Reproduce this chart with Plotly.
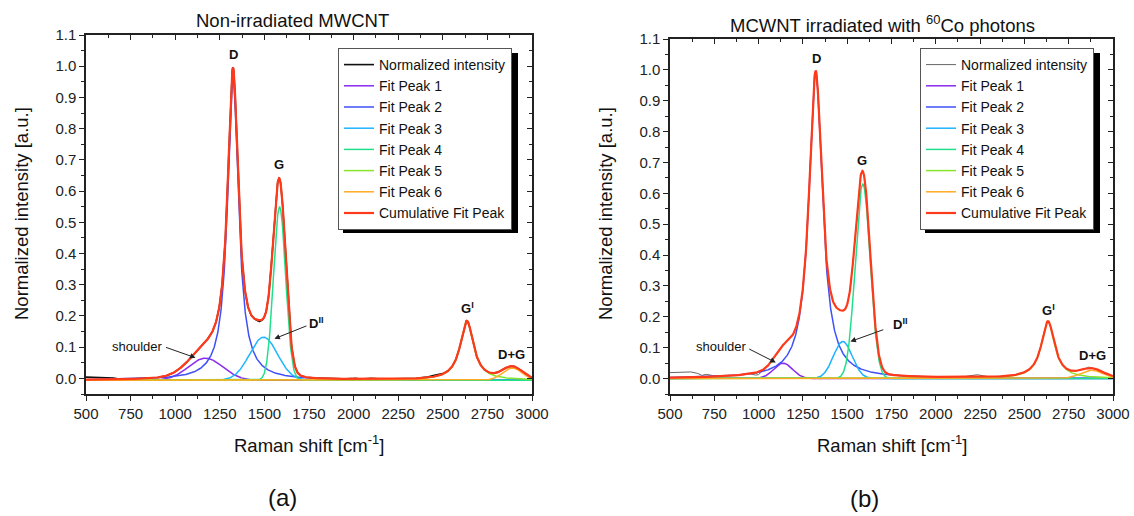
import numpy as np
import plotly.graph_objects as go

# ---------------- data ----------------
series_names = ["Normalized intensity", "Fit Peak 1", "Fit Peak 2", "Fit Peak 3",
                "Fit Peak 4", "Fit Peak 5", "Fit Peak 6", "Cumulative Fit Peak"]
peak_shapes = ["gauss", "lorentz", "gauss", "gauss", "lorentz", "gauss"]

# (a) non-irradiated MWCNT: fitted peak parameters
a_centers = [1170, 1324, 1495, 1585, 2635, 2890]
a_heights = [0.071, 0.969, 0.138, 0.555, 0.190, 0.039]
a_fwhm = [225, 74, 185, 80, 90, 130]
a_offset = -0.006
# measured minus fit (visible deviations of the measured spectrum)
a_resid_x = [500, 540, 580, 620, 645, 670, 700, 1440, 1470, 1500, 1980, 2010, 2050,
             2090, 2130, 2400, 2440, 2480, 2520, 3000]
a_resid_y = [0.008, 0.007, 0.008, 0.007, 0.006, 0.001, 0.0, 0.0, -0.004, 0.0, 0.0,
             0.003, 0.0, 0.004, 0.0, 0.0, 0.005, 0.003, 0.0, 0.0]

# (b) MWCNT irradiated with 60Co photons
b_centers = [1138, 1322, 1475, 1588, 2633, 2880]
b_heights = [0.050, 0.995, 0.120, 0.630, 0.185, 0.027]
b_fwhm = [125, 92, 125, 99, 90, 150]
b_offset = 0.0
b_resid_x = [500, 557, 595, 633, 661, 680, 699, 718, 746, 800, 850, 900, 935, 965,
             996, 1030, 2150, 2200, 2230, 2260, 2300, 2840, 2860, 2880, 3000]
b_resid_y = [0.016, 0.018, 0.019, 0.016, 0.011, 0.005, 0.009, 0.006, 0.001, 0.002,
             0.003, 0.0, 0.004, -0.004, -0.010, 0.0, 0.0, 0.006, 0.008, 0.004, 0.0,
             0.0, 0.004, 0.0, 0.0]

x_ticks = [500, 750, 1000, 1250, 1500, 1750, 2000, 2250, 2500, 2750, 3000]
y_ticks = [0.0, 0.1, 0.2, 0.3, 0.4, 0.5, 0.6, 0.7, 0.8, 0.9, 1.0, 1.1]

# ---------------- styles ----------------
W, H = 1134, 516
FONT = "Liberation Sans, Arial, sans-serif"
peak_colors = ["#8A2BF0", "#3F50F8", "#1EB4FF", "#22E08A", "#88E62A", "#FFAA22"]
cum_color = "#FF3A1A"
LEG_FS = 14

grid = np.linspace(500, 3000, 1251)


def peak_curve(shape, c, h, w):
    if shape == "gauss":
        return h * np.exp(-4 * np.log(2) * (grid - c) ** 2 / w ** 2)
    return h / (1 + 4 * (grid - c) ** 2 / w ** 2)


def px(v):
    return v / W


def py(v):
    return 1 - v / H


fig = go.Figure()


def add_panel(centers, heights, fwhm, offset, rx, ry, xa, ya, legend, meas_color, meas_w):
    comps = [peak_curve(s, c, h, w) for s, c, h, w in zip(peak_shapes, centers, heights, fwhm)]
    cum = offset + np.sum(comps, axis=0)
    meas = cum + np.interp(grid, rx, ry)
    fig.add_trace(go.Scatter(x=grid, y=meas, mode="lines", name=series_names[0],
                             line=dict(color=meas_color, width=meas_w),
                             xaxis=xa, yaxis=ya, legend=legend))
    for i, comp in enumerate(comps):
        fig.add_trace(go.Scatter(x=grid, y=offset + comp, mode="lines", name=series_names[i + 1],
                                 line=dict(color=peak_colors[i], width=1.5),
                                 xaxis=xa, yaxis=ya, legend=legend))
    fig.add_trace(go.Scatter(x=grid, y=cum, mode="lines", name=series_names[7],
                             line=dict(color=cum_color, width=2.2),
                             xaxis=xa, yaxis=ya, legend=legend))


add_panel(a_centers, a_heights, a_fwhm, a_offset, a_resid_x, a_resid_y, "x", "y", "legend", "#111111", 1.6)
add_panel(b_centers, b_heights, b_fwhm, b_offset, b_resid_x, b_resid_y, "x2", "y2", "legend2", "#666666", 1.0)

# dummy traces so the inward-tick overlay axes (top / right) are drawn
for xa, ya in [("x3", "y3"), ("x4", "y4")]:
    fig.add_trace(go.Scatter(x=[None], y=[None], xaxis=xa, yaxis=ya, showlegend=False,
                             hoverinfo="skip"))

axis_col = "#222222"
tickfont = dict(family=FONT, size=15, color="#222222")

left_dom = [px(86), px(532)]
right_dom = [px(670), px(1113)]
ydom_a = [py(394), py(35)]
ydom_b = [py(394), py(39)]


def xaxis_main(dom, anchor):
    return dict(domain=dom, anchor=anchor, range=[500, 3000], tickmode="array", tickvals=x_ticks,
                ticks="outside", ticklen=5, tickwidth=1.2, tickcolor=axis_col,
                minor=dict(ticks="outside", ticklen=3, tickwidth=1.2, tickcolor=axis_col,
                           tickmode="linear", tick0=500, dtick=125),
                showline=True, linecolor=axis_col, linewidth=1.5, mirror=True, automargin=False,
                showgrid=False, zeroline=False, tickfont=tickfont, fixedrange=True)


def yaxis_main(dom, anchor):
    return dict(domain=dom, anchor=anchor, range=[-0.05, 1.1], tickmode="array", tickvals=y_ticks,
                tickformat=".1f", ticks="outside", ticklen=5, tickwidth=1.2, tickcolor=axis_col,
                minor=dict(ticks="outside", ticklen=3, tickwidth=1.2, tickcolor=axis_col,
                           tickmode="linear", tick0=0, dtick=0.05),
                showline=True, linecolor=axis_col, linewidth=1.5, mirror=True, automargin=False,
                showgrid=False, zeroline=False, tickfont=tickfont, fixedrange=True)


def xaxis_top(over, anchor):
    return dict(overlaying=over, side="top", anchor=anchor, range=[500, 3000], tickmode="array",
                tickvals=x_ticks, ticks="inside", ticklen=5, tickwidth=1.2, tickcolor=axis_col,
                minor=dict(ticks="inside", ticklen=3, tickwidth=1.2, tickcolor=axis_col,
                           tickmode="linear", tick0=500, dtick=125), automargin=False,
                showticklabels=False, showline=False, showgrid=False, zeroline=False, fixedrange=True)


def yaxis_right(over, anchor):
    return dict(overlaying=over, side="right", anchor=anchor, range=[-0.05, 1.1], tickmode="array",
                tickvals=y_ticks, ticks="inside", ticklen=5, tickwidth=1.2, tickcolor=axis_col,
                minor=dict(ticks="inside", ticklen=3, tickwidth=1.2, tickcolor=axis_col,
                           tickmode="linear", tick0=0, dtick=0.05), automargin=False,
                showticklabels=False, showline=False, showgrid=False, zeroline=False, fixedrange=True)


legend_style = dict(xanchor="left", yanchor="top", bgcolor="white", bordercolor="#555555",
                    borderwidth=1, font=dict(family=FONT, size=LEG_FS, color="#111111"),
                    itemwidth=30, tracegroupgap=0, itemclick=False, itemdoubleclick=False)

fig.update_layout(
    width=W, height=H, margin=dict(l=0, r=0, t=0, b=0, pad=0, autoexpand=False),
    paper_bgcolor="white", plot_bgcolor="white",
    font=dict(family=FONT, color="#111111"),
    xaxis=xaxis_main(left_dom, "y"), yaxis=yaxis_main(ydom_a, "x"),
    xaxis2=xaxis_main(right_dom, "y2"), yaxis2=yaxis_main(ydom_b, "x2"),
    xaxis3=xaxis_top("x", "y"), yaxis3=yaxis_right("y", "x"),
    xaxis4=xaxis_top("x2", "y2"), yaxis4=yaxis_right("y2", "x2"),
    legend=dict(x=px(338), y=py(48), **legend_style),
    legend2=dict(x=px(920), y=py(48), **legend_style),
    showlegend=True,
)

# legend drop shadows (legend box approx. 175 x 180 px)
leg_w, leg_h, sh = 175, 180, 5
for lx0 in [338, 920]:
    fig.add_shape(type="rect", xref="paper", yref="paper", x0=px(lx0 + sh), x1=px(lx0 + leg_w + sh),
                  y0=py(48 + sh), y1=py(48 + leg_h + sh), fillcolor="black", line=dict(width=0),
                  layer="above")

ann = []
centered = dict(xref="paper", yref="paper", showarrow=False, xanchor="center", yanchor="middle")
# panel titles, axis titles, panel letters
ann.append(dict(text="Non-irradiated MWCNT", x=px(292), y=py(21),
                font=dict(size=18.5, family=FONT), **centered))
ann.append(dict(text="MCWNT irradiated with <sup>60</sup>Co photons", x=px(882), y=py(24),
                font=dict(size=18.5, family=FONT), **centered))
for cx in [309, 892]:
    ann.append(dict(text="Raman shift [cm<sup>-1</sup>]", x=px(cx), y=py(444),
                    font=dict(size=18.5, family=FONT), **centered))
for cx in [21, 605]:
    ann.append(dict(text="Normalized intensity [a.u.]", x=px(cx), y=py(214), textangle=-90,
                    font=dict(size=18.5, family=FONT), **centered))
ann.append(dict(text="(a)", x=px(282), y=py(497), font=dict(size=24, family=FONT), **centered))
ann.append(dict(text="(b)", x=px(864), y=py(498), font=dict(size=24, family=FONT), **centered))

# peak labels: (text, x, y) in data units
labels_a = [("<b>D</b>", 1324, 1.037), ("<b>G</b>", 1584, 0.684), ("<b>D<sup>II</sup></b>", 1790, 0.178),
            ("<b>G<sup>I</sup></b>", 2636, 0.226), ("<b>D+G</b>", 2884, 0.075)]
labels_b = [("<b>D</b>", 1326, 1.038), ("<b>G</b>", 1583, 0.705), ("<b>D<sup>II</sup></b>", 1800, 0.176),
            ("<b>G<sup>I</sup></b>", 2637, 0.222), ("<b>D+G</b>", 2882, 0.076)]
for labels, xr, yr in [(labels_a, "x", "y"), (labels_b, "x2", "y2")]:
    for t, lx, ly in labels:
        ann.append(dict(text=t, x=lx, y=ly, xref=xr, yref=yr, showarrow=False,
                        xanchor="center", yanchor="middle",
                        font=dict(size=13, family=FONT, color="#111111")))

# shoulder text + arrows: (text x, text y, tail x, tail y, head x, head y)
arrows_a = [(790, 0.103, 940, 0.101, 1114, 0.066), (None, None, 1744, 0.170, 1556, 0.127)]
arrows_b = [(789, 0.103, 939, 0.098, 1097, 0.052), (None, None, 1712, 0.160, 1518, 0.120)]
for arrows, xr, yr in [(arrows_a, "x", "y"), (arrows_b, "x2", "y2")]:
    for tx, ty, ax_, ay_, hx, hy in arrows:
        if tx is not None:
            ann.append(dict(text="shoulder", x=tx, y=ty, xref=xr, yref=yr, showarrow=False,
                            xanchor="center", yanchor="middle",
                            font=dict(size=13, family=FONT, color="#111111")))
        ann.append(dict(text="", x=hx, y=hy, ax=ax_, ay=ay_, xref=xr, yref=yr, axref=xr, ayref=yr,
                        showarrow=True, arrowhead=2, arrowsize=1.1, arrowwidth=1,
                        arrowcolor="#222222", standoff=0, startstandoff=0))

fig.update_layout(annotations=ann)

fig.write_html("out.html", config={"displayModeBar": False},
               post_script="document.body.style.margin='0px';document.body.style.overflow='hidden';")
